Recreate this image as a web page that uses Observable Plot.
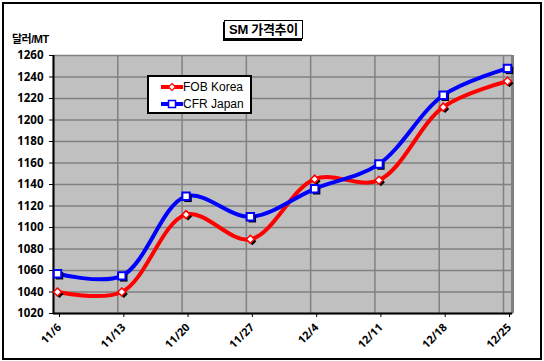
<!DOCTYPE html>
<html>
<head>
<meta charset="utf-8">
<script src="https://cdn.jsdelivr.net/npm/d3@7"></script>
<script src="https://cdn.jsdelivr.net/npm/@observablehq/plot@0.6"></script>
<style>
  html, body { margin: 0; padding: 0; background: #fff; }
  #wrap { position: relative; width: 544px; height: 361px; overflow: hidden; font-family: "Liberation Sans", Arial, "Noto Sans CJK KR", sans-serif; }
  #border { position: absolute; left: 2px; top: 2px; width: 536px; height: 354px; border: 2px solid #000; }
  #chart { position: absolute; left: 0; top: 0; }
  #title { position: absolute; left: 224px; top: 20px; width: 77px; height: 17px; background: #fff; border: 1px solid #000; box-shadow: -1px 2px 0 #000; font-weight: bold; font-size: 13px; line-height: 17px; text-align: center; font-family: "Liberation Sans", Arial, "Noto Sans CJK KR", sans-serif; letter-spacing: -0.3px; }
  #ylabel { position: absolute; left: 12px; top: 30px; font-weight: bold; font-size: 11px; font-family: "Liberation Sans", Arial, "Noto Sans CJK KR", sans-serif; letter-spacing: -0.5px; }
  #legend { position: absolute; left: 147px; top: 75px; width: 101px; height: 35px; background: #fff; border: 2px solid #000; font-size: 12px; }
  .lg { position: absolute; left: 12px; height: 14px; display: flex; align-items: center; }
</style>
</head>
<body>
<div id="wrap">
  <div id="border"></div>
  <div id="chart"></div>
  <div id="title">SM 가격추이</div>
  <div id="ylabel">달러/MT</div>
  <div id="legend"></div>
</div>
<script>
const dates = ["11/6", "11/13", "11/20", "11/27", "12/4", "12/11", "12/18", "12/25"];
const fobKorea = [1040, 1040, 1112, 1089, 1145, 1144, 1212, 1236];
const cfrJapan = [1057, 1055, 1129, 1110, 1136, 1159, 1223, 1248];
const yTicks = [1020, 1040, 1060, 1080, 1100, 1120, 1140, 1160, 1180, 1200, 1220, 1240, 1260];
const seriesNames = ["FOB Korea", "CFR Japan"];
const seriesColors = ["#ff0000", "#0000ff"];

const fobRows = dates.map((d, i) => ({i, date: d, value: fobKorea[i]}));
const cfrRows = dates.map((d, i) => ({i, date: d, value: cfrJapan[i]}));
const idx = dates.map((d, i) => i);

const chart = Plot.plot({
  width: 544,
  height: 361,
  marginLeft: 53,
  marginRight: 32,
  marginTop: 55,
  marginBottom: 48,
  style: {background: "transparent", overflow: "visible"},
  x: {type: "linear", domain: [0, 7.14]},
  y: {domain: [1020, 1260]},
  marks: [
    Plot.frame({fill: "#c0c0c0", stroke: "#808080", strokeWidth: 1}),
    Plot.ruleY(yTicks, {stroke: "#808080", strokeWidth: 1.5}),
    Plot.ruleX(idx, {stroke: "#808080", strokeWidth: 1.5}),
    Plot.ruleX([7.14], {stroke: "#808080", strokeWidth: 3}),
    Plot.ruleX([0], {stroke: "#000", strokeWidth: 2}),
    Plot.ruleY([1020], {stroke: "#000", strokeWidth: 2}),
    Plot.axisY({ticks: yTicks, tickFormat: d => String(d), tickSize: 4, tickPadding: 6, fontSize: 11.5, fontWeight: "bold", label: null, fill: "#000"}),
    Plot.axisX({ticks: idx, tickFormat: i => dates[i], tickSize: 4, tickRotate: -45, tickPadding: 8, fontSize: 11, fontWeight: "bold", label: null, fill: "#000", dx: 6}),
    Plot.line(fobRows, {x: "i", y: "value", stroke: seriesColors[0], strokeWidth: 4, curve: "catmull-rom", dx: 4}),
    Plot.line(cfrRows, {x: "i", y: "value", stroke: seriesColors[1], strokeWidth: 4, curve: "catmull-rom", dx: 4}),
    Plot.dot(fobRows, {x: "i", y: "value", symbol: "diamond2", r: 3.6, fill: "#000", stroke: "none", dx: 6, dy: 2}),
    Plot.dot(fobRows, {x: "i", y: "value", symbol: "diamond2", r: 3.6, fill: "#fff", stroke: seriesColors[0], strokeWidth: 1.5, dx: 4}),
    Plot.dot(cfrRows, {x: "i", y: "value", symbol: "square", r: 4.2, fill: "#000", stroke: "none", dx: 6, dy: 2}),
    Plot.dot(cfrRows, {x: "i", y: "value", symbol: "square", r: 4.2, fill: "#fff", stroke: seriesColors[1], strokeWidth: 2, dx: 4})
  ]
});
document.getElementById("chart").appendChild(chart);

// legend
const legend = document.getElementById("legend");
seriesNames.forEach((name, k) => {
  const row = document.createElement("div");
  row.className = "lg";
  row.style.top = (k === 0 ? 3 : 20) + "px";
  const sw = k === 0
    ? `<svg width="22" height="12"><line x1="0" y1="6" x2="22" y2="6" stroke="${seriesColors[k]}" stroke-width="4"/><path d="M11,2.5 L14.5,6 L11,9.5 L7.5,6 Z" fill="#fff" stroke="${seriesColors[k]}" stroke-width="1.2"/></svg>`
    : `<svg width="22" height="12"><line x1="0" y1="6" x2="22" y2="6" stroke="${seriesColors[k]}" stroke-width="4"/><rect x="7.5" y="2.5" width="7" height="7" fill="#fff" stroke="${seriesColors[k]}" stroke-width="1.5"/></svg>`;
  row.innerHTML = sw + `<span>${name}</span>`;
  legend.appendChild(row);
});
</script>
</body>
</html>
